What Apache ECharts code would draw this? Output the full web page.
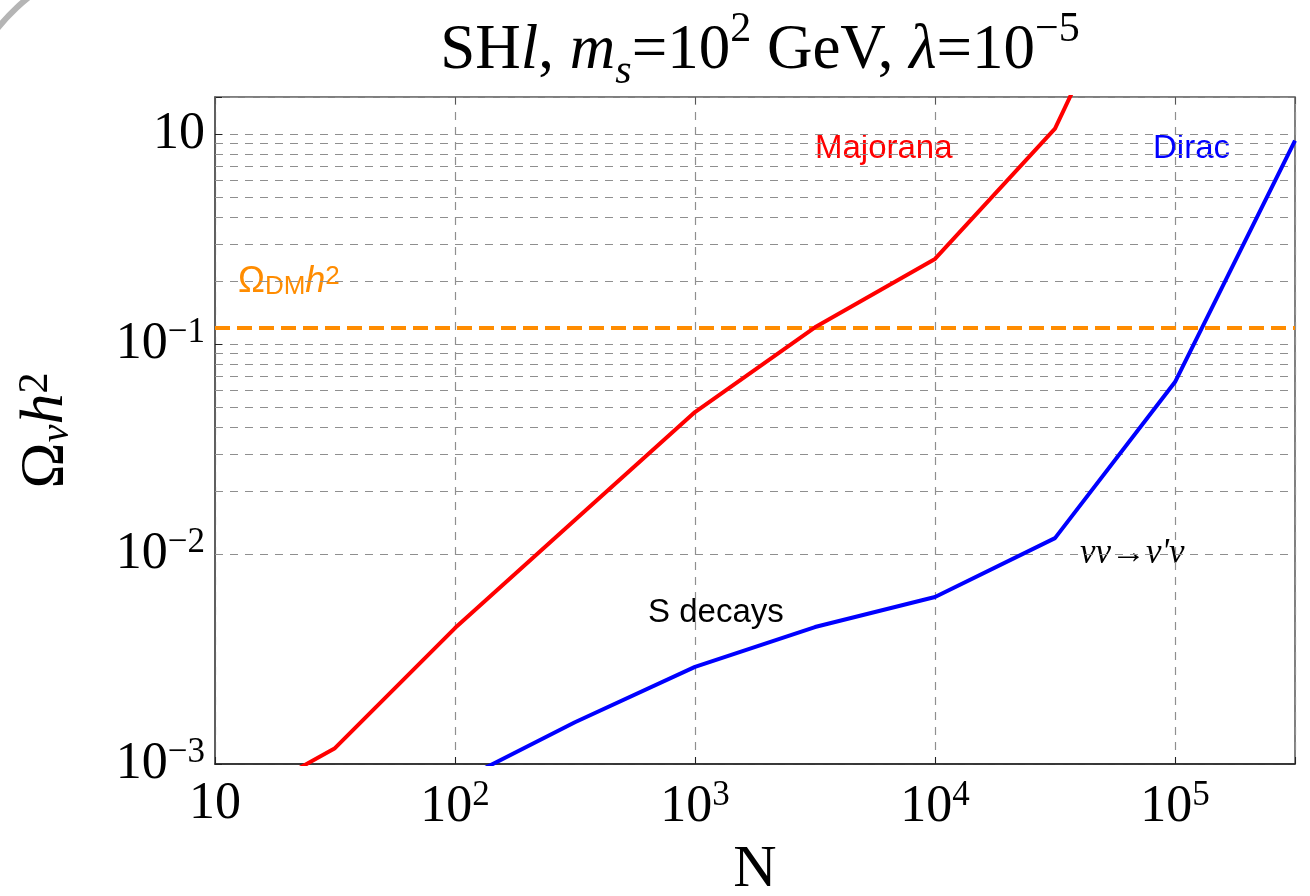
<!DOCTYPE html>
<html>
<head>
<meta charset="utf-8">
<script src="https://cdn.jsdelivr.net/npm/echarts@6/dist/echarts.min.js"></script>
<style>
  html, body { margin: 0; padding: 0; background: #fff; }
  #chart { width: 1310px; height: 896px; }
</style>
</head>
<body>
<div id="chart"></div>
<script>
// N values and relic abundance
const majoranaN = [10, 31.6, 100, 316, 1000, 3162, 10000, 31623, 39811];
const majoranaOmega = [0.00057, 0.00119, 0.00444, 0.0145, 0.0474, 0.12, 0.254, 1.06, 1.85];

const diracN = [100, 316, 1000, 3162, 10000, 31623, 100000, 316228];
const diracOmega = [0.00081, 0.00158, 0.0029, 0.00449, 0.00624, 0.0119, 0.0659, 0.93];

const omegaDM = 0.12;

// minor (2..9) grid lines on the y axis
const yMinorTicks = [
  0.002, 0.003, 0.004, 0.005, 0.006, 0.007, 0.008, 0.009,
  0.02, 0.03, 0.04, 0.05, 0.06, 0.07, 0.08, 0.09,
  0.2, 0.3, 0.4, 0.5, 0.6, 0.7, 0.8, 0.9
];

const xMin = 10, xMax = 316228;
const yMin = 0.001, yMax = 1.5;

const serif = '"Liberation Serif", "DejaVu Serif", serif';
const sans = '"Liberation Sans", Arial, sans-serif';

const chart = echarts.init(document.getElementById('chart'));

const gridDash = { color: '#8f8f8f', width: 1.2, type: [8, 7] };

function expRich(size) {
  return {
    b: { fontFamily: serif, fontSize: size, color: '#000' },
    sup: { fontFamily: serif, fontSize: Math.round(size * 0.68), color: '#000', verticalAlign: 'top', padding: [0, 0, Math.round(size * 0.45), 0] }
  };
}

function powLabel(v, topAsTen) {
  const e = Math.round(Math.log10(v));
  if (Math.abs(Math.log10(v) - e) > 1e-6) return '';
  if (e === 1) return '{b|10}';
  if (e === 0) return topAsTen ? '{b|10}' : '{b|1}';
  return '{b|10}{sup|' + String(e).replace('-', '−') + '}';
}

const option = {
  animation: false,
  backgroundColor: '#fff',
  title: {
    text: '{n|SH}{i|l}{n|, }{i|m}{sub|s}{n|=10}{sup|2}{n| GeV, }{i|λ}{n|=10}{sup|−5}',
    left: 755,
    textAlign: 'center',
    top: 4,
    textStyle: {
      fontWeight: 'normal',
      rich: {
        n: { fontFamily: serif, fontSize: 63, fontWeight: 'normal', color: '#000', lineHeight: 84 },
        i: { fontFamily: serif, fontSize: 63, fontWeight: 'normal', fontStyle: 'italic', color: '#000', lineHeight: 84 },
        sub: { fontFamily: serif, fontSize: 42, fontWeight: 'normal', fontStyle: 'italic', color: '#000', verticalAlign: 'bottom', lineHeight: 84 },
        sup: { fontFamily: serif, fontSize: 42, fontWeight: 'normal', color: '#000', verticalAlign: 'top', lineHeight: 84 }
      }
    }
  },
  grid: {
    left: 215, right: 15, top: 97, bottom: 132,
    outerBoundsMode: 'none',
    show: true, borderColor: '#555', borderWidth: 1.5
  },
  xAxis: [
    {
      type: 'log', logBase: 10, min: xMin, max: xMax,
      name: 'N', nameLocation: 'middle', nameGap: 76,
      nameTextStyle: { fontFamily: serif, fontSize: 60, color: '#000' },
      axisLine: { show: true, lineStyle: { color: '#222', width: 1.5 } },
      axisTick: { show: true, inside: true, length: 7, lineStyle: { color: '#222' } },
      axisLabel: {
        margin: 14, color: '#000',
        formatter: v => powLabel(v, false),
        rich: expRich(52)
      },
      splitLine: { show: true, lineStyle: gridDash },
      minorTick: { show: false }
    },
    {
      type: 'log', logBase: 10, min: xMin, max: xMax, position: 'top',
      axisLine: { show: false },
      axisTick: { show: true, inside: true, length: 7, lineStyle: { color: '#555' } },
      axisLabel: { show: false },
      splitLine: { show: false }
    }
  ],
  yAxis: [
    {
      type: 'log', logBase: 10, min: yMin, max: yMax,
      name: '{o|Ω}{s|ν}{h|h}{sup|2}', nameLocation: 'middle', nameGap: 138, nameRotate: 90,
      nameTextStyle: {
        rich: {
          o: { fontFamily: serif, fontSize: 62, color: '#000' },
          s: { fontFamily: serif, fontSize: 40, fontStyle: 'italic', color: '#000', verticalAlign: 'bottom' },
          h: { fontFamily: serif, fontSize: 62, fontStyle: 'italic', color: '#000' },
          sup: { fontFamily: serif, fontSize: 42, color: '#000', verticalAlign: 'top' }
        }
      },
      axisLine: { show: true, lineStyle: { color: '#555', width: 1.5 } },
      axisTick: { show: true, inside: true, length: 7, lineStyle: { color: '#222' } },
      axisLabel: {
        margin: 10, color: '#000',
        formatter: v => powLabel(v, true),
        rich: expRich(52)
      },
      splitLine: { show: true, lineStyle: gridDash }
    }
  ],
  series: [
    {
      name: 'grid-minor', type: 'line', data: [], silent: true,
      markLine: {
        silent: true, symbol: 'none', animation: false,
        label: { show: false },
        lineStyle: { color: '#8f8f8f', width: 1.2, type: [8, 7] },
        data: yMinorTicks.map(v => ({ yAxis: v }))
      }
    },
    {
      name: 'Majorana', type: 'line', showSymbol: false, clip: true,
      lineStyle: { color: '#ff0000', width: 4 },
      data: majoranaN.map((n, i) => [n, majoranaOmega[i]]),
      z: 5
    },
    {
      name: 'Dirac', type: 'line', showSymbol: false, clip: true,
      lineStyle: { color: '#0000ff', width: 4 },
      data: diracN.map((n, i) => [n, diracOmega[i]]),
      z: 5
    },
    {
      name: 'OmegaDM', type: 'line', data: [], silent: true,
      markLine: {
        silent: true, symbol: 'none', animation: false,
        label: { show: false },
        lineStyle: { color: '#ff8c00', width: 4, type: [15, 7] },
        data: [{ yAxis: omegaDM }]
      },
      z: 4
    }
  ],
  graphic: [
    {
      type: 'arc', silent: true,
      shape: { cx: 150, cy: 150, r: 195, startAngle: Math.PI * 1.1, endAngle: Math.PI * 1.42 },
      style: { stroke: '#b5b5b5', lineWidth: 6, fill: null }
    },
    {
      type: 'text', left: 815, top: 132, silent: true,
      style: { text: 'Majorana', fontFamily: sans, fontSize: 33, fill: '#ff0000' }
    },
    {
      type: 'text', left: 1153, top: 132, silent: true,
      style: { text: 'Dirac', fontFamily: sans, fontSize: 33, fill: '#0000ff' }
    },
    {
      type: 'text', left: 648, top: 596, silent: true,
      style: { text: 'S decays', fontFamily: sans, fontSize: 33, fill: '#000' }
    },
    {
      type: 'text', left: 1080, top: 536, silent: true,
      style: { text: 'νν→ν\'ν', fontFamily: serif, fontStyle: 'italic', fontSize: 35, fill: '#000' }
    },
    {
      type: 'text', left: 238, top: 264, silent: true,
      style: {
        text: '{o|Ω}{s|DM}{h|h}{sup|2}',
        rich: {
          o: { fontFamily: sans, fontSize: 36, fill: '#ff8c00' },
          s: { fontFamily: sans, fontSize: 26, fill: '#ff8c00', verticalAlign: 'bottom' },
          h: { fontFamily: sans, fontSize: 36, fontStyle: 'italic', fill: '#ff8c00' },
          sup: { fontFamily: sans, fontSize: 26, fill: '#ff8c00', verticalAlign: 'top' }
        }
      }
    }
  ]
};

chart.setOption(option);
</script>
</body>
</html>
